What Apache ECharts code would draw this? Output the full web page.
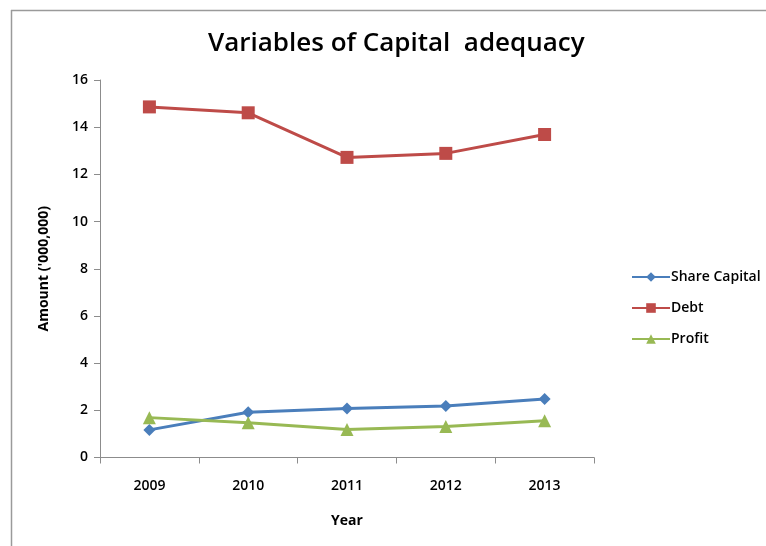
<!DOCTYPE html>
<html>
<head>
<meta charset="utf-8">
<script src="https://cdn.jsdelivr.net/npm/echarts@6/dist/echarts.min.js"></script>
<style>
  html, body { margin: 0; padding: 0; background: #ffffff; }
  #chart { width: 766px; height: 546px; }
</style>
</head>
<body>
<div id="chart"></div>
<script>
// Years on the category axis
const years = ['2009', '2010', '2011', '2012', '2013'];
// Amounts in ('000,000)
const shareCapital = [1.17, 1.92, 2.08, 2.18, 2.48];
const debt = [14.86, 14.61, 12.72, 12.89, 13.69];
const profit = [1.69, 1.47, 1.19, 1.31, 1.56];
// Value axis ticks
const yTicks = [0, 2, 4, 6, 8, 10, 12, 14, 16];

const FONT = '"Open Sans", "Liberation Sans", sans-serif';
const chart = echarts.init(document.getElementById('chart'), null, { renderer: 'canvas' });

chart.setOption({
  animation: false,
  backgroundColor: '#ffffff',
  title: {
    text: 'Variables of Capital  adequacy',
    left: 203,
    top: 26,
    textStyle: { fontFamily: FONT, fontSize: 26, fontWeight: 600, color: '#000000' }
  },
  graphic: [
    { type: 'line', shape: { x1: 11, y1: 10.5, x2: 766, y2: 10.5 }, style: { stroke: '#9a9a9a', lineWidth: 1.5 } },
    { type: 'line', shape: { x1: 11.5, y1: 10, x2: 11.5, y2: 546 }, style: { stroke: '#9a9a9a', lineWidth: 1.5 } }
  ],
  legend: {
    orient: 'vertical',
    left: 626,
    top: 265,
    itemGap: 17,
    itemWidth: 38,
    itemHeight: 12,
    textStyle: { fontFamily: FONT, fontSize: 14, fontWeight: 600, color: '#000000', padding: [0, 0, 0, -4] },
    data: ['Share Capital', 'Debt', 'Profit']
  },
  grid: { left: 100, right: 172, top: 80, bottom: 88.5 },
  xAxis: {
    type: 'category',
    data: years,
    boundaryGap: true,
    name: 'Year',
    nameLocation: 'middle',
    nameGap: 57,
    nameTextStyle: { fontFamily: FONT, fontSize: 14, fontWeight: 700, color: '#000000' },
    axisLine: { lineStyle: { color: '#8c8c8c', width: 1 } },
    axisTick: { show: true, length: 6, lineStyle: { color: '#8c8c8c' } },
    axisLabel: { fontFamily: FONT, fontSize: 14, fontWeight: 600, color: '#000000', margin: 22 }
  },
  yAxis: {
    type: 'value',
    min: yTicks[0],
    max: yTicks[yTicks.length - 1],
    interval: 2,
    name: "Amount ('000,000)",
    nameLocation: 'middle',
    nameGap: 49,
    nameRotate: 90,
    nameTextStyle: { fontFamily: FONT, fontSize: 14, fontWeight: 700, color: '#000000' },
    axisLine: { show: true, lineStyle: { color: '#8c8c8c', width: 1 } },
    axisTick: { show: true, inside: false, length: 6, lineStyle: { color: '#8c8c8c' } },
    axisLabel: { fontFamily: FONT, fontSize: 14, fontWeight: 600, color: '#000000', margin: 12 },
    splitLine: { show: false }
  },
  series: [
    {
      name: 'Share Capital',
      type: 'line',
      data: shareCapital,
      symbol: 'diamond',
      symbolSize: 12,
      color: '#4a7ebb',
      lineStyle: { width: 3, color: '#4a7ebb' },
      itemStyle: { color: '#4a7ebb' }
    },
    {
      name: 'Debt',
      type: 'line',
      data: debt,
      symbol: 'rect',
      symbolSize: 13,
      color: '#be4b48',
      lineStyle: { width: 3, color: '#be4b48' },
      itemStyle: { color: '#be4b48' }
    },
    {
      name: 'Profit',
      type: 'line',
      data: profit,
      symbol: 'triangle',
      symbolSize: 13,
      color: '#98b954',
      lineStyle: { width: 3, color: '#98b954' },
      itemStyle: { color: '#98b954' }
    }
  ]
});
</script>
</body>
</html>
